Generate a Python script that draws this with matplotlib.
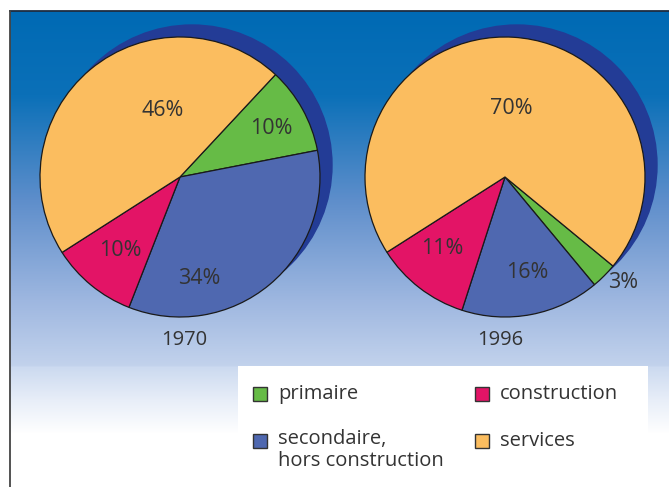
import numpy as np
import matplotlib
matplotlib.use("Agg")
from matplotlib import pyplot as plt
from matplotlib.patches import Circle, Rectangle
from matplotlib.colors import to_rgb

plt.rcParams['font.family'] = ['Open Sans', 'DejaVu Sans']

# data
categories = ["primaire", "secondaire,\nhors construction", "construction", "services"]
colors = ["#66BB46", "#4F68B0", "#E31466", "#FBBD5F"]
years = ["1970", "1996"]
shares_1970 = [10, 34, 10, 46]
shares_1996 = [3, 16, 11, 70]

W, H = 669, 487
TXT = "#333333"

fig = plt.figure(figsize=(W / 100, H / 100), dpi=100)
ax = fig.add_axes([0, 0, 1, 1])

# background gradient (pixel rows from top)
stops = [(11, "#006AB4"), (95, "#0B70B8"), (200, "#5E8ECB"), (300, "#9EB7E0"),
         (365, "#C2D2EC"), (367, "#CCDAF0"), (400, "#E8EEF8"), (433, "#FFFFFF"), (487, "#FFFFFF")]
rows = np.arange(11, 487)
sy = [s[0] for s in stops]
grad = np.zeros((len(rows), 1, 3))
for c in range(3):
    grad[:, 0, c] = np.interp(rows, sy, [to_rgb(s[1])[c] for s in stops])
ax.imshow(grad, extent=[10, W, 0, H - 11], aspect='auto', zorder=0, interpolation='bilinear')

# frame lines
ax.plot([10, W], [H - 11, H - 11], color="#1E2D40", lw=1.3, zorder=6)
ax.plot([10, 10], [0, H - 11], color="#444444", lw=1.3, zorder=6)


def draw_pie(shares, cx, cy, start, labels_xy):
    ax.add_patch(Circle((cx + 12, cy + 12), 140, color="#233C96", zorder=1))
    ax.pie(shares, colors=colors, startangle=start, counterclock=False,
           center=(cx, cy), radius=140, frame=True,
           wedgeprops=dict(edgecolor="#1a1a1a", linewidth=0.9, zorder=2))
    for v, (dx, dy) in zip(shares, labels_xy):
        ax.text(cx + dx, cy + dy, f"{v}%", ha='center', va='center',
                fontsize=15.5, color=TXT, zorder=5)


# label offsets relative to pie centre (green, blue, red, orange)
draw_pie(shares_1970, 180, H - 177, 47, [(91, 48), (19, -101), (-60, -73), (-17, 67)])
draw_pie(shares_1996, 505, H - 177, -39.5, [(118, -106), (22, -95), (-63, -71), (6, 69)])

ax.text(184, H - 340, years[0], ha='center', va='center', fontsize=14.5, color=TXT, zorder=5)
ax.text(500, H - 340, years[1], ha='center', va='center', fontsize=14.5, color=TXT, zorder=5)

# legend box
ax.add_patch(Rectangle((238, 0), 410, H - 366, facecolor="white", edgecolor="none", zorder=4))
leg_pos = [(253, 394), (253, 441), (475, 394), (475, 441)]
for (lx, ly), name, col in zip(leg_pos, categories, colors):
    ax.add_patch(Rectangle((lx, H - ly - 7), 14, 14, facecolor=col, edgecolor="#333333",
                           lw=1, zorder=5))
    if "\n" in name:
        ax.text(lx + 25, H - ly + 12, name, ha='left', va='top',
                fontsize=14.5, color=TXT, zorder=5, linespacing=1.1)
    else:
        ax.text(lx + 25, H - ly, name, ha='left', va='center',
                fontsize=14.5, color=TXT, zorder=5)

ax.set_xlim(0, W)
ax.set_ylim(0, H)
ax.set_aspect('auto')
ax.axis('off')

plt.savefig("out.png", dpi=100, facecolor="white")
